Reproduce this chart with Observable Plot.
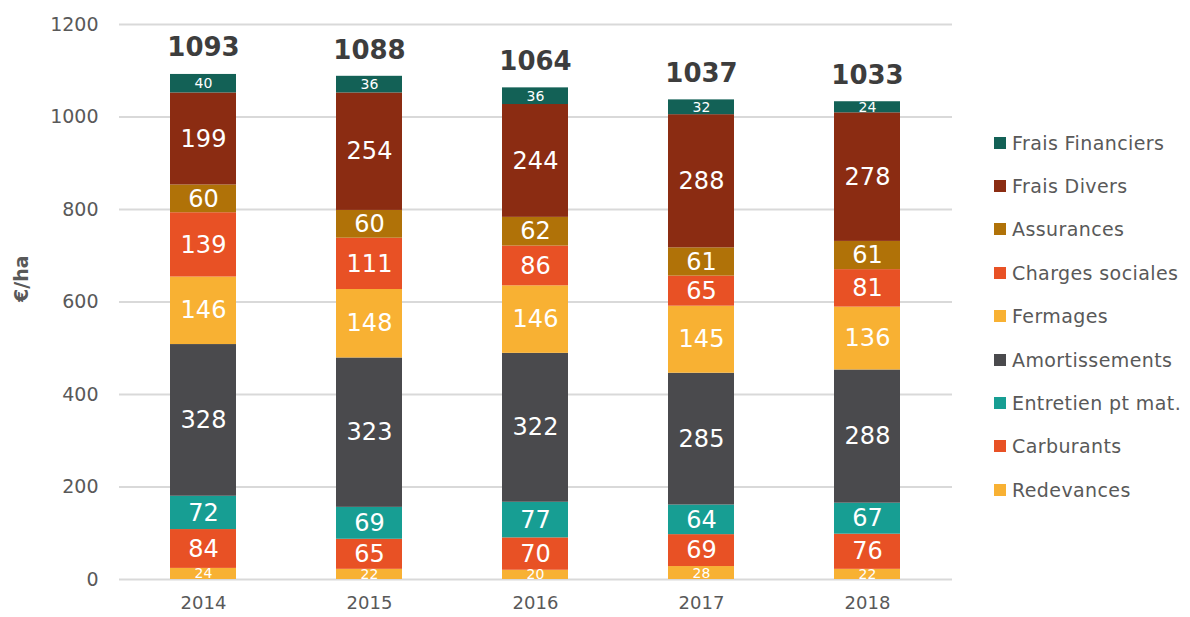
<!DOCTYPE html>
<html><head><meta charset="utf-8">
<script src="https://cdn.jsdelivr.net/npm/d3@7"></script>
<script src="https://cdn.jsdelivr.net/npm/@observablehq/plot@0.6"></script>
<style>
body{margin:0;background:#fff;font-family:"DejaVu Sans",sans-serif;}
#wrap{position:relative;width:1190px;height:617px;}
#legend{position:absolute;left:994px;top:121px;}
.li{display:flex;align-items:center;height:43.4px;font-size:19px;letter-spacing:0.4px;color:#595959;white-space:nowrap;}
.sw{width:12px;height:12px;margin-right:6px;flex:none;}
</style></head><body>
<div id="wrap"><div id="chart"></div><div id="legend"></div></div>
<script>
const years = ["2014","2015","2016","2017","2018"];
const series = ["Redevances","Carburants","Entretien pt mat.","Amortissements","Fermages","Charges sociales","Assurances","Frais Divers","Frais Financiers"];
const colors = ["#F8B133","#E85125","#179E93","#4A4A4D","#F8B133","#E85125","#B07208","#8B2C12","#136156"];
const redevances = [24,22,20,28,22];
const carburants = [84,65,70,69,76];
const entretien = [72,69,77,64,67];
const amortissements = [328,323,322,285,288];
const fermages = [146,148,146,145,136];
const chargesSociales = [139,111,86,65,81];
const assurances = [60,60,62,61,61];
const fraisDivers = [199,254,244,288,278];
const fraisFinanciers = [40,36,36,32,24];
const totals = [1093,1088,1064,1037,1033];
const yTicks = [0,200,400,600,800,1000,1200];

const valuesBySeries = [redevances,carburants,entretien,amortissements,fermages,chargesSociales,assurances,fraisDivers,fraisFinanciers];
const data = [];
series.forEach((s,i)=>years.forEach((y,j)=>data.push({year:y,series:s,idx:i,value:valuesBySeries[i][j]})));
const totalData = years.map((y,j)=>({year:y,total:totals[j]}));

const font = '"DejaVu Sans",sans-serif';
const chart = Plot.plot({
  width:1190, height:617,
  marginLeft:119, marginRight:238, marginTop:24, marginBottom:38,
  style:{fontFamily:font, background:"#fff"},
  x:{domain:years, paddingInner:0.6, paddingOuter:0.3, label:null, tickSize:0},
  y:{domain:[0,1200], ticks:yTicks, label:null, tickSize:0},
  color:{domain:series, range:colors},
  marks:[
    Plot.gridY(yTicks,{stroke:"#d9d9d9", strokeOpacity:1, strokeWidth:2}),
    Plot.axisY(yTicks,{tickSize:0, tickPadding:21, fontSize:19, fill:"#595959", label:null, tickFormat:d=>String(d)}),
    Plot.axisX({tickSize:0, tickPadding:17, fontSize:18, fill:"#595959", label:null}),
    Plot.barY(data, Plot.stackY({x:"year", y:"value", z:"series", order:series, fill:"series"})),
    Plot.text(data, Plot.stackY({x:"year", y:"value", z:"series", order:series, text:d=>String(d.value), fill:"#fff",
      fontSize:d=>d.value<45?14:24})),
    Plot.text(totalData,{x:"year", y:"total", text:d=>String(d.total), dy:-26, fontSize:26, fontWeight:"bold", fill:"#3d3d3d"}),
    Plot.text(["€/ha"],{frameAnchor:"left", dx:-98, rotate:-90, fontSize:19, fontWeight:"bold", fill:"#595959"})
  ]
});
document.getElementById("chart").appendChild(chart);

const leg = document.getElementById("legend");
for (let i=series.length-1;i>=0;i--){
  const d=document.createElement("div"); d.className="li";
  d.innerHTML=`<span class="sw" style="background:${colors[i]}"></span><span>${series[i]}</span>`;
  leg.appendChild(d);
}
</script></body></html>
